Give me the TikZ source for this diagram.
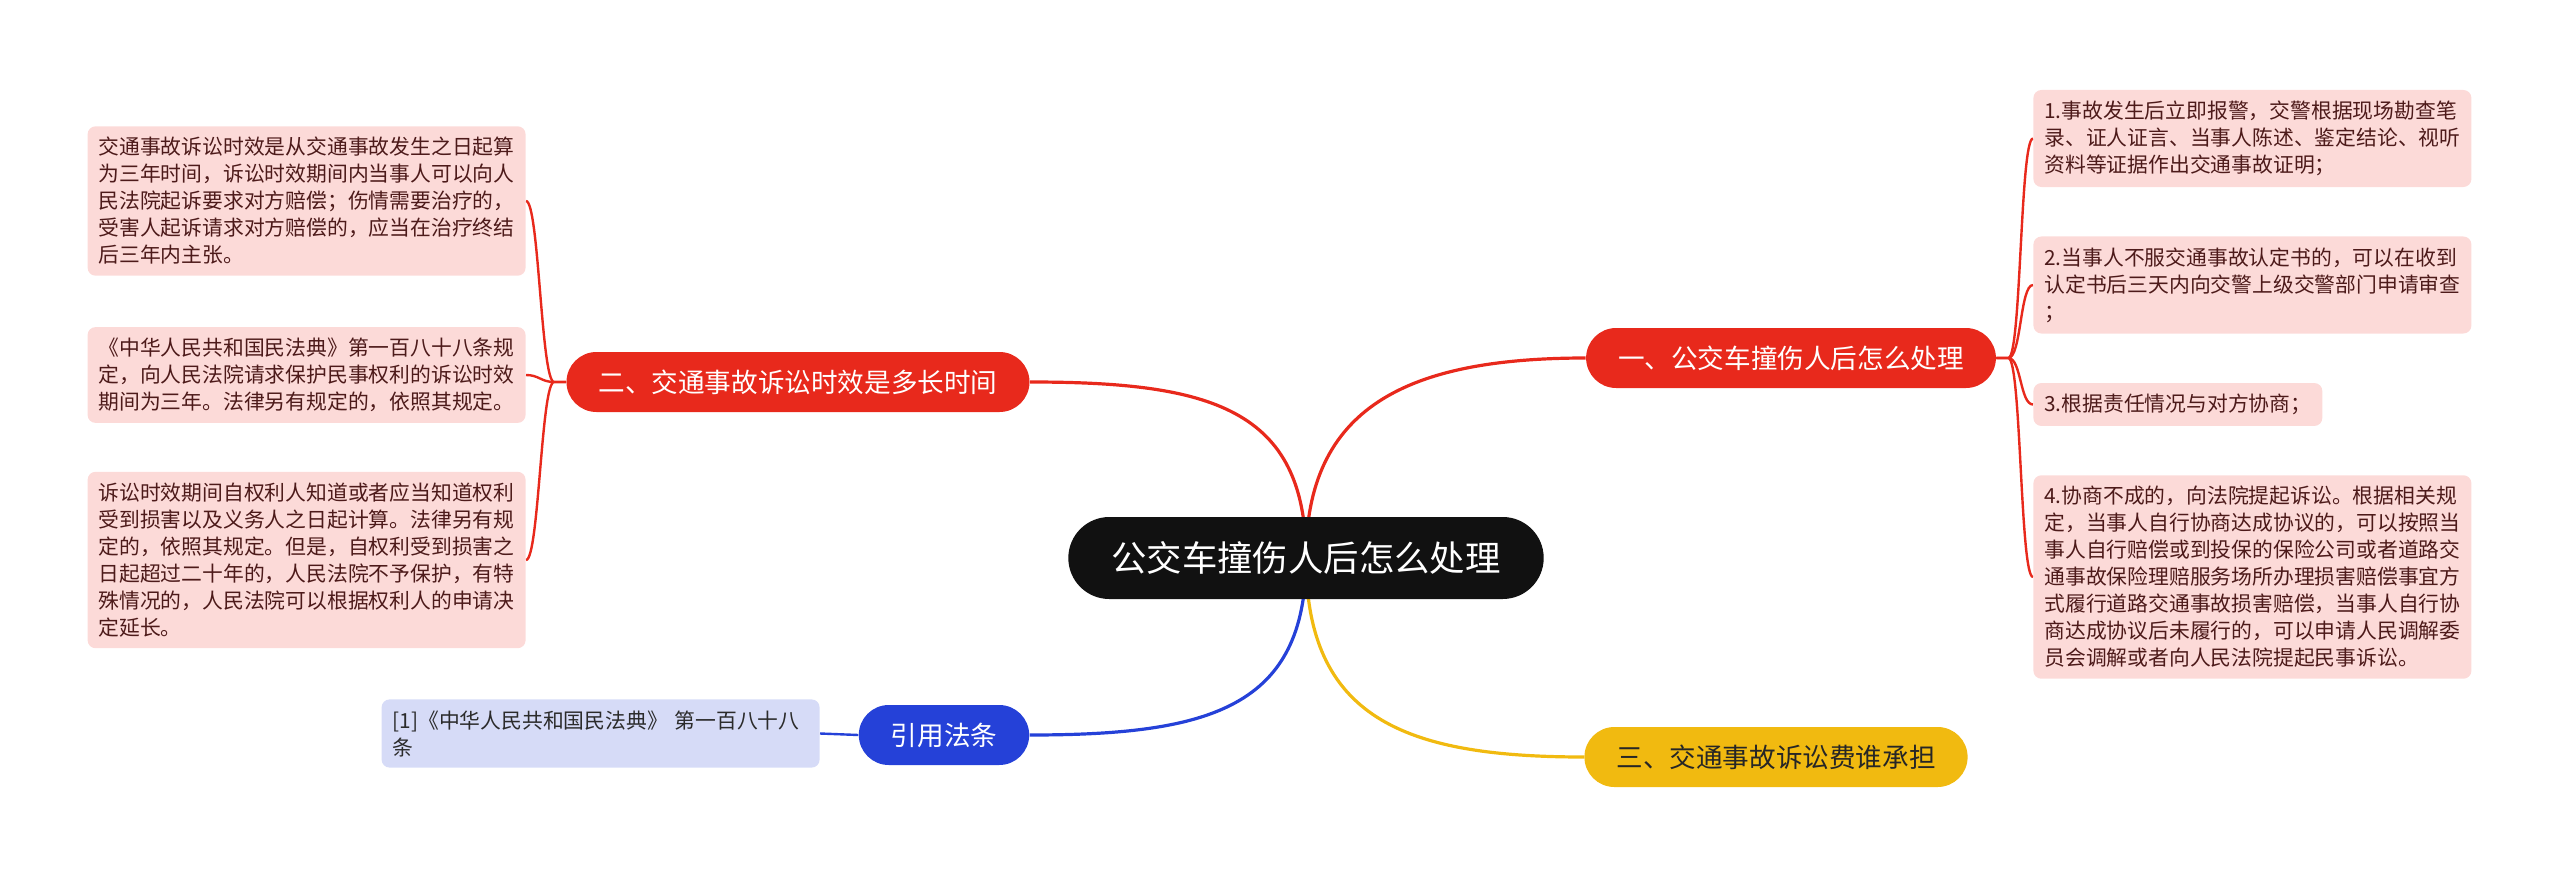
\documentclass[tikz,border=0pt]{standalone}
\usepackage{fontspec}
\setmainfont{Noto Sans CJK SC}
\usetikzlibrary{backgrounds}

\begin{document}
\begin{tikzpicture}[x=0.5pt,y=-0.5pt]
  \definecolor{kRed}{HTML}{E8291C}
  \definecolor{kYellow}{HTML}{F1BA10}
  \definecolor{kBlue}{HTML}{2541D8}
  \definecolor{kRoot}{HTML}{111111}
  \definecolor{kPink}{HTML}{FCDAD8}
  \definecolor{kLilac}{HTML}{D6DBF7}
  \definecolor{kLeafText}{HTML}{4D1A1A}
  \definecolor{kCiteText}{HTML}{2B2B2B}
  \tikzset{
    rootbox/.style={fill=kRoot,text=white,rounded corners=20.5pt,minimum height=41pt,
                    inner xsep=21.5pt,font=\fontsize{17.7pt}{20pt}\selectfont},
    topicbox/.style={rounded corners=15pt,minimum height=30pt,inner xsep=16pt,
                     font=\fontsize{13.3pt}{16pt}\selectfont},
    leafbox/.style={fill=kPink,text=kLeafText,rounded corners=4pt,align=left,
                    inner xsep=5.5pt,inner ysep=5.5pt,font=\fontsize{10.4pt}{13.5pt}\selectfont},
    mainline/.style={line width=1.6pt},
    leafline/.style={line width=1.2pt}
  }

  \useasboundingbox (0,0) rectangle (2560,878);

  % centre
  \node[rootbox] (root) at (1306,558) {公交车撞伤人后怎么处理};

  % topics
  \node[topicbox,fill=kRed,text=white] (howto) at (1791,358) {一、公交车撞伤人后怎么处理};
  \node[topicbox,fill=kRed,text=white] (limit) at (798,382) {二、交通事故诉讼时效是多长时间};
  \node[topicbox,fill=kYellow,text=black!85] (fees) at (1776,757) {三、交通事故诉讼费谁承担};
  \node[topicbox,fill=kBlue,text=white] (law) at (944,735) {引用法条};

  % right leaves
  \node[leafbox,text width=208pt,anchor=west] (stepA) at (2033,138.5)
    {1.事故发生后立即报警，交警根据现场勘查笔\\录、证人证言、当事人陈述、鉴定结论、视听\\资料等证据作出交通事故证明；};
  \node[leafbox,text width=208pt,anchor=west] (stepB) at (2033,285)
    {2.当事人不服交通事故认定书的，可以在收到\\认定书后三天内向交警上级交警部门申请审查\\；};
  \node[leafbox,anchor=west] (stepC) at (2033,404.5)
    {3.根据责任情况与对方协商；};
  \node[leafbox,text width=208pt,anchor=west] (stepD) at (2033,577)
    {4.协商不成的，向法院提起诉讼。根据相关规\\定，当事人自行协商达成协议的，可以按照当\\事人自行赔偿或到投保的保险公司或者道路交\\通事故保险理赔服务场所办理损害赔偿事宜方\\式履行道路交通事故损害赔偿，当事人自行协\\商达成协议后未履行的，可以申请人民调解委\\员会调解或者向人民法院提起民事诉讼。};

  % left leaves
  \node[leafbox,text width=208pt,anchor=east] (termA) at (526,201)
    {交通事故诉讼时效是从交通事故发生之日起算\\为三年时间，诉讼时效期间内当事人可以向人\\民法院起诉要求对方赔偿；伤情需要治疗的，\\受害人起诉请求对方赔偿的，应当在治疗终结\\后三年内主张。};
  \node[leafbox,text width=208pt,anchor=east] (termB) at (526,375)
    {《中华人民共和国民法典》第一百八十八条规\\定，向人民法院请求保护民事权利的诉讼时效\\期间为三年。法律另有规定的，依照其规定。};
  \node[leafbox,text width=208pt,anchor=east] (termC) at (526,560)
    {诉讼时效期间自权利人知道或者应当知道权利\\受到损害以及义务人之日起计算。法律另有规\\定的，依照其规定。但是，自权利受到损害之\\日起超过二十年的，人民法院不予保护，有特\\殊情况的，人民法院可以根据权利人的申请决\\定延长。};

  % citation
  \node[leafbox,fill=kLilac,text=kCiteText,text width=208pt,anchor=east] (cite) at (820,733.5)
    {[1]《中华人民共和国民法典》 第一百八十八\\条};

  \begin{pgfonlayer}{background}
    \draw[mainline,kRed] (root.center) .. controls +(0,-150) and +(-180,0) .. (howto.west);
    \draw[mainline,kRed] (root.center) .. controls +(0,-150) and +(180,0) .. (limit.east);
    \draw[mainline,kYellow] (root.center) .. controls +(0,160) and +(-180,0) .. (fees.west);
    \draw[mainline,kBlue] (root.center) .. controls +(0,150) and +(180,0) .. (law.east);

    \foreach \leaf in {stepA,stepB,stepC,stepD}
      \draw[leafline,kRed] (howto.east) -- ++(12,0) .. controls +(13,0) and +(-13,0) .. (\leaf.west);
    \foreach \leaf in {termA,termB,termC}
      \draw[leafline,kRed] (limit.west) -- ++(-12,0) .. controls +(-13,0) and +(13,0) .. (\leaf.east);
    \draw[leafline,kBlue] (law.west) -- (cite.east);
  \end{pgfonlayer}
\end{tikzpicture}
\end{document}
